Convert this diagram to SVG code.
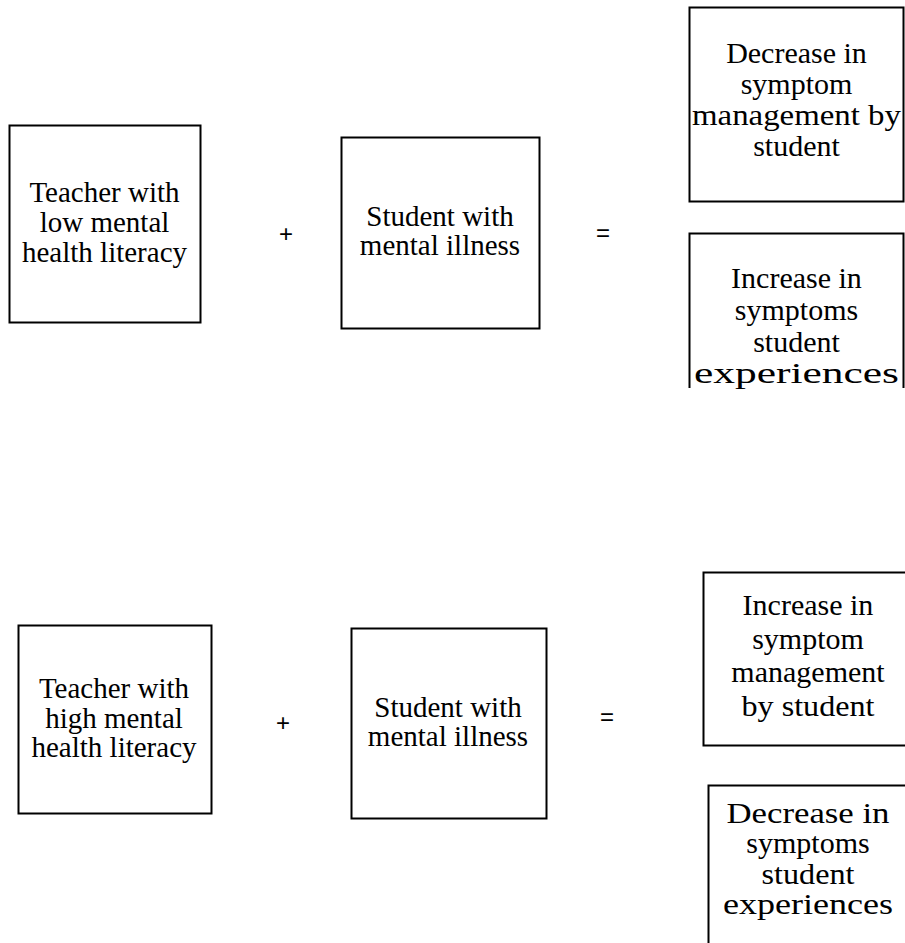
<svg xmlns="http://www.w3.org/2000/svg" width="905" height="943" viewBox="0 0 905 943">
<style>
.box{fill:none;stroke:#000;stroke-width:2}
.t{font-family:"Liberation Serif","Times New Roman",serif;font-size:29px;fill:#000;text-anchor:middle}
.r{font-size:30px}
.op{font-family:"Liberation Sans",Arial,sans-serif;font-size:24px;fill:#000;text-anchor:middle}
</style>
<rect width="905" height="943" fill="#fff"/>
<g id="teacher-low">
<rect class="box" x="9.5" y="125.5" width="191" height="197"/>
<text class="t" x="104.5" y="202">Teacher with</text>
<text class="t" x="104.5" y="232">low mental</text>
<text class="t" x="104.5" y="262">health literacy</text>
</g>
<g id="student-top">
<rect class="box" x="341.5" y="137.5" width="198" height="191"/>
<text class="t" x="440" y="226">Student with</text>
<text class="t" x="440" y="255">mental illness</text>
</g>
<g id="decrease-mgmt">
<rect class="box" x="689.5" y="7.5" width="214" height="194"/>
<text class="t r" x="796.5" y="63">Decrease in</text>
<text class="t r" x="796.5" y="94">symptom</text>
<text class="t r" x="796.5" y="125" textLength="209" lengthAdjust="spacingAndGlyphs">management by</text>
<text class="t r" x="796.5" y="156">student</text>
</g>
<g id="increase-symptoms">
<path class="box" d="M689.5,388 V233.5 H903.5 V388"/>
<text class="t r" x="796.5" y="288">Increase in</text>
<text class="t r" x="796.5" y="320">symptoms</text>
<text class="t r" x="796.5" y="352">student</text>
<text class="t r" x="796.5" y="383" textLength="205" lengthAdjust="spacingAndGlyphs">experiences</text>
</g>
<g id="teacher-high">
<rect class="box" x="18.5" y="625.5" width="193" height="188"/>
<text class="t" x="114" y="698">Teacher with</text>
<text class="t" x="114" y="728">high mental</text>
<text class="t" x="114" y="757">health literacy</text>
</g>
<g id="student-bottom">
<rect class="box" x="351.5" y="628.5" width="195" height="190"/>
<text class="t" x="448" y="717">Student with</text>
<text class="t" x="448" y="746">mental illness</text>
</g>
<g id="increase-mgmt">
<path class="box" d="M910,572.5 H703.5 V745.5 H910"/>
<text class="t r" x="808" y="615">Increase in</text>
<text class="t r" x="808" y="649">symptom</text>
<text class="t r" x="808" y="682">management</text>
<text class="t r" x="808" y="716" textLength="133" lengthAdjust="spacingAndGlyphs">by student</text>
</g>
<g id="decrease-symptoms">
<path class="box" d="M910,785.5 H708.5 V943"/>
<text class="t r" x="808" y="823" textLength="163" lengthAdjust="spacingAndGlyphs">Decrease in</text>
<text class="t r" x="808" y="853">symptoms</text>
<text class="t r" x="808" y="884" textLength="93" lengthAdjust="spacingAndGlyphs">student</text>
<text class="t r" x="808" y="914" textLength="170" lengthAdjust="spacingAndGlyphs">experiences</text>
</g>
<g id="connectors">
<text class="op" x="286" y="242">+</text>
<text class="op" x="603" y="241">=</text>
<text class="op" x="283" y="731">+</text>
<text class="op" x="607" y="725">=</text>
</g>
</svg>
